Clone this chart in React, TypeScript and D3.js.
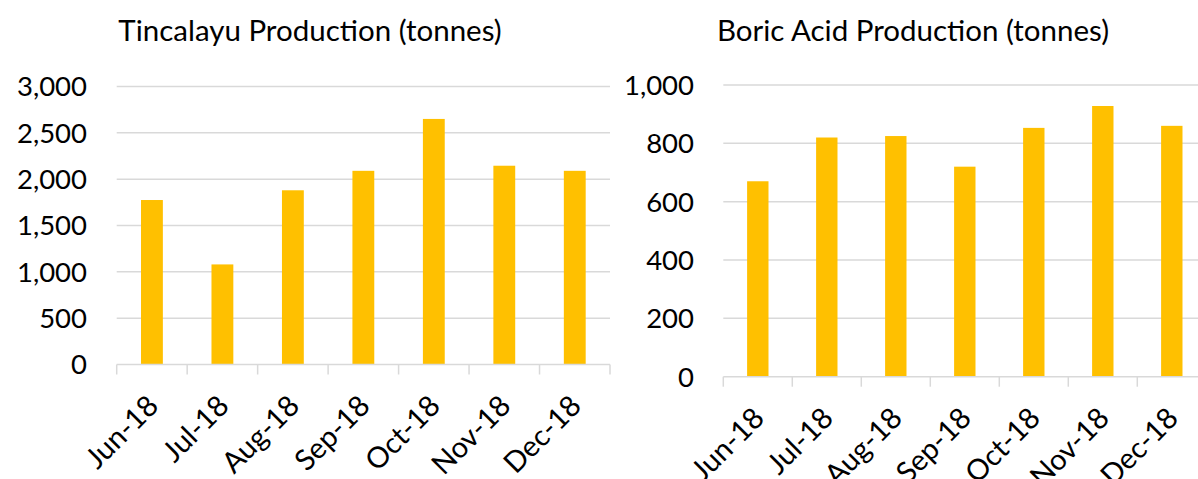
import React, { useEffect, useRef } from "react";
import * as d3 from "d3";

const months = ["Jun-18", "Jul-18", "Aug-18", "Sep-18", "Oct-18", "Nov-18", "Dec-18"];
const tincalayu = [1775, 1080, 1880, 2090, 2650, 2145, 2090];
const boricAcid = [670, 820, 825, 720, 853, 928, 860];
const tincalayuTicks = [0, 500, 1000, 1500, 2000, 2500, 3000];
const boricTicks = [0, 200, 400, 600, 800, 1000];

const FONT = "Lato, 'Open Sans', sans-serif";
const BAR = "#FFC000";
const GRID = "#d9d9d9";

function drawPanel(
  g: d3.Selection<SVGGElement, unknown, null, undefined>,
  opts: {
    title: string;
    titleX: number;
    values: number[];
    ticks: number[];
    max: number;
    x0: number;
    x1: number;
    y0: number;
    y1: number;
    labelRight: number;
  }
) {
  const x = d3.scaleBand<string>().domain(months).range([opts.x0, opts.x1]).padding(0);
  const y = d3.scaleLinear().domain([0, opts.max]).range([opts.y0, opts.y1]);
  const fmt = d3.format(",");

  g.append("text")
    .attr("x", opts.titleX)
    .attr("y", 41)
    .attr("text-anchor", "middle")
    .attr("font-family", FONT)
    .attr("font-size", 29.5)
    .attr("fill", "#000")
    .text(opts.title);

  g.selectAll("line.grid")
    .data(opts.ticks.filter((t) => t > 0))
    .join("line")
    .attr("x1", opts.x0)
    .attr("x2", opts.x1)
    .attr("y1", (d) => y(d))
    .attr("y2", (d) => y(d))
    .attr("stroke", GRID)
    .attr("stroke-width", 1.5);

  g.selectAll("text.ylab")
    .data(opts.ticks)
    .join("text")
    .attr("x", opts.labelRight)
    .attr("y", (d) => y(d))
    .attr("dy", "0.36em")
    .attr("text-anchor", "end")
    .attr("font-family", FONT)
    .attr("font-size", 27.5)
    .attr("fill", "#000")
    .text((d) => fmt(d));

  const bw = x.bandwidth() * 0.31;
  g.selectAll("rect.bar")
    .data(opts.values)
    .join("rect")
    .attr("x", (_d, i) => x(months[i])! + x.bandwidth() / 2 - bw / 2)
    .attr("y", (d) => y(d))
    .attr("width", bw)
    .attr("height", (d) => y(0) - y(d))
    .attr("fill", BAR);

  g.append("line")
    .attr("x1", opts.x0)
    .attr("x2", opts.x1)
    .attr("y1", y(0))
    .attr("y2", y(0))
    .attr("stroke", GRID)
    .attr("stroke-width", 1.5);
  const tickXs = months.map((m) => x(m)!).concat([opts.x1]);
  g.selectAll("line.xt")
    .data(tickXs)
    .join("line")
    .attr("x1", (d) => d)
    .attr("x2", (d) => d)
    .attr("y1", y(0))
    .attr("y2", y(0) + 10)
    .attr("stroke", GRID)
    .attr("stroke-width", 1.5);

  g.selectAll("text.xlab")
    .data(months)
    .join("text")
    .attr("transform", (d) => {
      const cx = x(d)! + x.bandwidth() / 2 + 1;
      const cy = y(0) + 36;
      return `translate(${cx},${cy}) rotate(-45)`;
    })
    .attr("text-anchor", "end")
    .attr("dy", "0.35em")
    .attr("font-family", FONT)
    .attr("font-size", 29)
    .attr("fill", "#000")
    .text((d) => d);
}

export default function App() {
  const ref = useRef<SVGSVGElement>(null);
  useEffect(() => {
    const svg = d3.select(ref.current!);
    svg.selectAll("*").remove();
    drawPanel(svg.append("g"), {
      title: "Tincalayu Production (tonnes)",
      titleX: 310,
      values: tincalayu,
      ticks: tincalayuTicks,
      max: 3000,
      x0: 116.7,
      x1: 610,
      y0: 364.5,
      y1: 86.5,
      labelRight: 87,
    });
    drawPanel(svg.append("g"), {
      title: "Boric Acid Production (tonnes)",
      titleX: 913,
      values: boricAcid,
      ticks: boricTicks,
      max: 1000,
      x0: 723.3,
      x1: 1206.3,
      y0: 376.7,
      y1: 85,
      labelRight: 694,
    });
  }, []);
  return (
    <svg
      ref={ref}
      width={1198}
      height={479}
      style={{ position: "absolute", left: 0, top: 0, background: "#fff", display: "block" }}
    />
  );
}
